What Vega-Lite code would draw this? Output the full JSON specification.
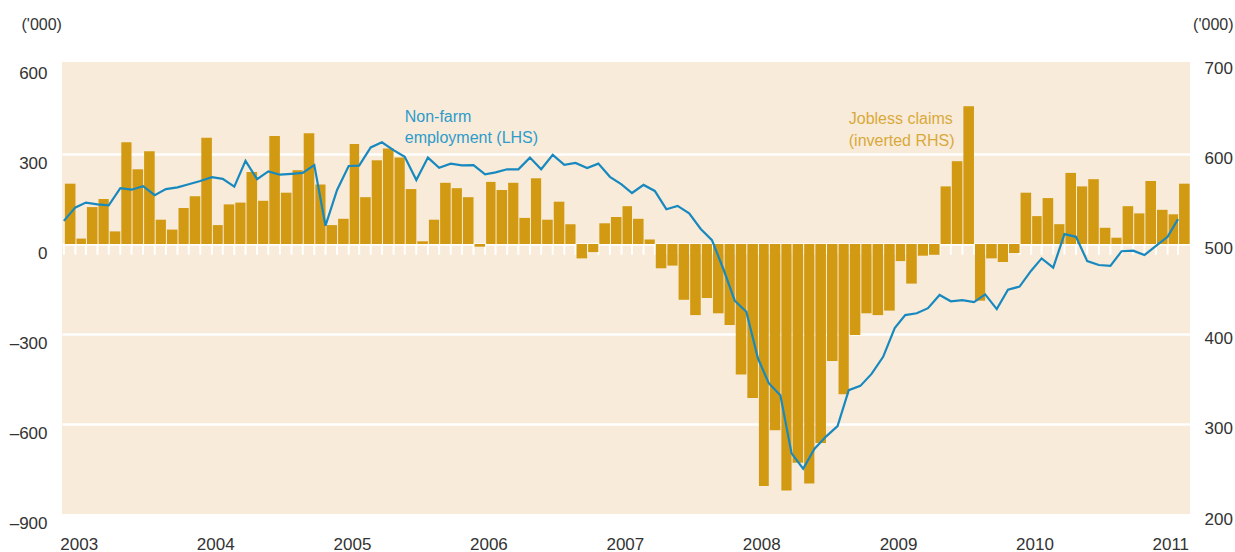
{
  "$schema": "https://vega.github.io/schema/vega-lite/v6.json",
  "width": 1128,
  "height": 452,
  "autosize": {"type": "none"},
  "padding": {"left": 62, "top": 62, "right": 45, "bottom": 38},
  "background": "white",
  "config": {
    "view": {"stroke": null, "fill": "#F8EBDA"},
    "font": "Liberation Sans, Arial, sans-serif"
  },
  "data": {
    "values": [
      {"d": "2003/01/01", "claims": 567, "nfp": 77},
      {"d": "2003/02/01", "claims": 506, "nfp": 122},
      {"d": "2003/03/01", "claims": 541, "nfp": 138},
      {"d": "2003/04/01", "claims": 550, "nfp": 132},
      {"d": "2003/05/01", "claims": 514, "nfp": 129},
      {"d": "2003/06/01", "claims": 613, "nfp": 186},
      {"d": "2003/07/01", "claims": 583, "nfp": 181},
      {"d": "2003/08/01", "claims": 603, "nfp": 193},
      {"d": "2003/09/01", "claims": 527, "nfp": 163},
      {"d": "2003/10/01", "claims": 516, "nfp": 183},
      {"d": "2003/11/01", "claims": 540, "nfp": 189},
      {"d": "2003/12/01", "claims": 553, "nfp": 199},
      {"d": "2004/01/01", "claims": 618, "nfp": 210},
      {"d": "2004/02/01", "claims": 521, "nfp": 223},
      {"d": "2004/03/01", "claims": 544, "nfp": 217},
      {"d": "2004/04/01", "claims": 546, "nfp": 191},
      {"d": "2004/05/01", "claims": 580, "nfp": 277},
      {"d": "2004/06/01", "claims": 548, "nfp": 216},
      {"d": "2004/07/01", "claims": 620, "nfp": 242},
      {"d": "2004/08/01", "claims": 557, "nfp": 231},
      {"d": "2004/09/01", "claims": 582, "nfp": 234},
      {"d": "2004/10/01", "claims": 623, "nfp": 237},
      {"d": "2004/11/01", "claims": 566, "nfp": 263},
      {"d": "2004/12/01", "claims": 521, "nfp": 61},
      {"d": "2005/01/01", "claims": 528, "nfp": 180},
      {"d": "2005/02/01", "claims": 611, "nfp": 260},
      {"d": "2005/03/01", "claims": 552, "nfp": 261},
      {"d": "2005/04/01", "claims": 593, "nfp": 322},
      {"d": "2005/05/01", "claims": 606, "nfp": 339},
      {"d": "2005/06/01", "claims": 596, "nfp": 313},
      {"d": "2005/07/01", "claims": 561, "nfp": 291},
      {"d": "2005/08/01", "claims": 503, "nfp": 213},
      {"d": "2005/09/01", "claims": 527, "nfp": 288},
      {"d": "2005/10/01", "claims": 568, "nfp": 254},
      {"d": "2005/11/01", "claims": 562, "nfp": 268},
      {"d": "2005/12/01", "claims": 552, "nfp": 262},
      {"d": "2006/01/01", "claims": 497, "nfp": 263},
      {"d": "2006/02/01", "claims": 569, "nfp": 232},
      {"d": "2006/03/01", "claims": 560, "nfp": 239},
      {"d": "2006/04/01", "claims": 568, "nfp": 249},
      {"d": "2006/05/01", "claims": 529, "nfp": 249},
      {"d": "2006/06/01", "claims": 573, "nfp": 288},
      {"d": "2006/07/01", "claims": 527, "nfp": 249},
      {"d": "2006/08/01", "claims": 547, "nfp": 297},
      {"d": "2006/09/01", "claims": 522, "nfp": 264},
      {"d": "2006/10/01", "claims": 484, "nfp": 270},
      {"d": "2006/11/01", "claims": 491, "nfp": 253},
      {"d": "2006/12/01", "claims": 523, "nfp": 268},
      {"d": "2007/01/01", "claims": 530, "nfp": 224},
      {"d": "2007/02/01", "claims": 542, "nfp": 199},
      {"d": "2007/03/01", "claims": 528, "nfp": 170},
      {"d": "2007/04/01", "claims": 505, "nfp": 197},
      {"d": "2007/05/01", "claims": 473, "nfp": 177},
      {"d": "2007/06/01", "claims": 476, "nfp": 116},
      {"d": "2007/07/01", "claims": 438, "nfp": 127},
      {"d": "2007/08/01", "claims": 421, "nfp": 102},
      {"d": "2007/09/01", "claims": 440, "nfp": 50},
      {"d": "2007/10/01", "claims": 423, "nfp": 13},
      {"d": "2007/11/01", "claims": 410, "nfp": -85},
      {"d": "2007/12/01", "claims": 355, "nfp": -189},
      {"d": "2008/01/01", "claims": 329, "nfp": -226},
      {"d": "2008/02/01", "claims": 231, "nfp": -381},
      {"d": "2008/03/01", "claims": 293, "nfp": -464},
      {"d": "2008/04/01", "claims": 226, "nfp": -504},
      {"d": "2008/05/01", "claims": 257, "nfp": -698},
      {"d": "2008/06/01", "claims": 234, "nfp": -749},
      {"d": "2008/07/01", "claims": 279, "nfp": -683},
      {"d": "2008/08/01", "claims": 370, "nfp": -642},
      {"d": "2008/09/01", "claims": 333, "nfp": -607},
      {"d": "2008/10/01", "claims": 399, "nfp": -487},
      {"d": "2008/11/01", "claims": 423, "nfp": -473},
      {"d": "2008/12/01", "claims": 421, "nfp": -433},
      {"d": "2009/01/01", "claims": 426, "nfp": -376},
      {"d": "2009/02/01", "claims": 481, "nfp": -280},
      {"d": "2009/03/01", "claims": 456, "nfp": -237},
      {"d": "2009/04/01", "claims": 487, "nfp": -231},
      {"d": "2009/05/01", "claims": 488, "nfp": -214},
      {"d": "2009/06/01", "claims": 564, "nfp": -170},
      {"d": "2009/07/01", "claims": 592, "nfp": -191},
      {"d": "2009/08/01", "claims": 653, "nfp": -187},
      {"d": "2009/09/01", "claims": 437, "nfp": -194},
      {"d": "2009/10/01", "claims": 484, "nfp": -168},
      {"d": "2009/11/01", "claims": 480, "nfp": -217},
      {"d": "2009/12/01", "claims": 490, "nfp": -152},
      {"d": "2010/01/01", "claims": 557, "nfp": -142},
      {"d": "2010/02/01", "claims": 531, "nfp": -89},
      {"d": "2010/03/01", "claims": 551, "nfp": -48},
      {"d": "2010/04/01", "claims": 522, "nfp": -79},
      {"d": "2010/05/01", "claims": 579, "nfp": 33},
      {"d": "2010/06/01", "claims": 564, "nfp": 24},
      {"d": "2010/07/01", "claims": 572, "nfp": -57},
      {"d": "2010/08/01", "claims": 518, "nfp": -70},
      {"d": "2010/09/01", "claims": 507, "nfp": -73},
      {"d": "2010/10/01", "claims": 542, "nfp": -24},
      {"d": "2010/11/01", "claims": 534, "nfp": -22},
      {"d": "2010/12/01", "claims": 570, "nfp": -37},
      {"d": "2011/01/01", "claims": 538, "nfp": -6},
      {"d": "2011/02/01", "claims": 533, "nfp": 24},
      {"d": "2011/03/01", "claims": 567, "nfp": 83}
    ]
  },
  "encoding": {
    "x": {
      "field": "d",
      "timeUnit": "yearmonth",
      "type": "temporal",
      "scale": {"domain": [{"year": 2002, "month": 12, "date": 27}, {"year": 2011, "month": 4, "date": 2}]},
      "axis": {
        "title": null,
        "format": "%Y",
        "tickCount": {"interval": "year", "step": 1},
        "labelAlign": "left",
        "labelBaseline": "alphabetic",
        "labelOffset": -4,
        "labelPadding": 35,
        "labelFlush": false,
        "labelOverlap": false,
        "labelFontSize": 17,
        "labelColor": "#333333",
        "grid": false,
        "domain": false,
        "ticks": false,
        "tickSize": 0
      }
    }
  },
  "layer": [
    {
      "layer": [
        {
          "mark": {"type": "rule", "color": "white", "strokeWidth": 2, "timeUnitBandPosition": 0.25},
          "encoding": {
            "y": {"datum": 500, "type": "quantitative"},
            "y2": {"datum": 488}
          }
        },
        {
          "mark": {"type": "bar", "color": "#D29A12", "timeUnitBandSize": 0.8},
          "encoding": {
            "y": {
              "field": "claims",
              "type": "quantitative",
              "scale": {"domain": [200, 702.2], "nice": false, "zero": false},
              "axis": {
                "orient": "right",
                "values": [200, 300, 400, 500, 600, 700],
                "grid": false,
                "domain": false,
                "ticks": false,
                "tickSize": 0,
                "labelPadding": 14,
                "labelOffset": 5,
                "labelFontSize": 17,
                "labelColor": "#333333",
                "title": "('000)",
                "titleAngle": 0,
                "titleAlign": "right",
                "titleBaseline": "middle",
                "titleX": 43,
                "titleY": -38,
                "titleFontSize": 16,
                "titleFontWeight": "normal",
                "titleColor": "#333333"
              }
            },
            "y2": {"datum": 500}
          }
        }
      ]
    },
    {
      "layer": [
        {
          "mark": {"type": "line", "color": "#1789BF", "strokeWidth": 2.2, "timeUnitBandPosition": 0.5},
          "encoding": {
            "y": {
              "field": "nfp",
              "type": "quantitative",
              "scale": {"domain": [-900, 606.7], "nice": false, "zero": false},
              "axis": {
                "orient": "left",
                "values": [-900, -600, -300, 0, 300, 600],
                "grid": true,
                "gridColor": {"condition": {"test": "datum.value <= -900 || datum.value >= 600", "value": "transparent"}, "value": "white"},
                "gridWidth": 2.3,
                "domain": false,
                "ticks": false,
                "tickSize": 0,
                "labelPadding": 15,
                "labelOffset": 9,
                "labelFontSize": 17,
                "labelColor": "#333333",
                "labelExpr": "datum.value < 0 ? '–' + abs(datum.value) : datum.label",
                "title": "('000)",
                "titleAngle": 0,
                "titleAlign": "left",
                "titleBaseline": "middle",
                "titleX": -41,
                "titleY": -38,
                "titleFontSize": 16,
                "titleFontWeight": "normal",
                "titleColor": "#333333"
              }
            }
          }
        },
        {
          "data": {
            "values": [
              {"at": "2005/07/30", "v": 408, "t": "Non-farm", "s": "nfp"},
              {"at": "2005/07/30", "v": 338, "t": "employment (LHS)", "s": "nfp"},
              {"at": "2008/10/22", "v": 399, "t": "Jobless claims", "s": "claims"},
              {"at": "2008/10/22", "v": 328, "t": "(inverted RHS)", "s": "claims"}
            ]
          },
          "mark": {"type": "text", "align": "left", "baseline": "alphabetic", "fontSize": 16},
          "encoding": {
            "x": {"field": "at", "type": "temporal"},
            "y": {"field": "v", "type": "quantitative"},
            "text": {"field": "t", "type": "nominal"},
            "color": {
              "condition": {"test": "datum.s === 'nfp'", "value": "#2E9BCB"},
              "value": "#D9A93A"
            }
          }
        }
      ]
    }
  ],
  "resolve": {"scale": {"y": "independent"}}
}
